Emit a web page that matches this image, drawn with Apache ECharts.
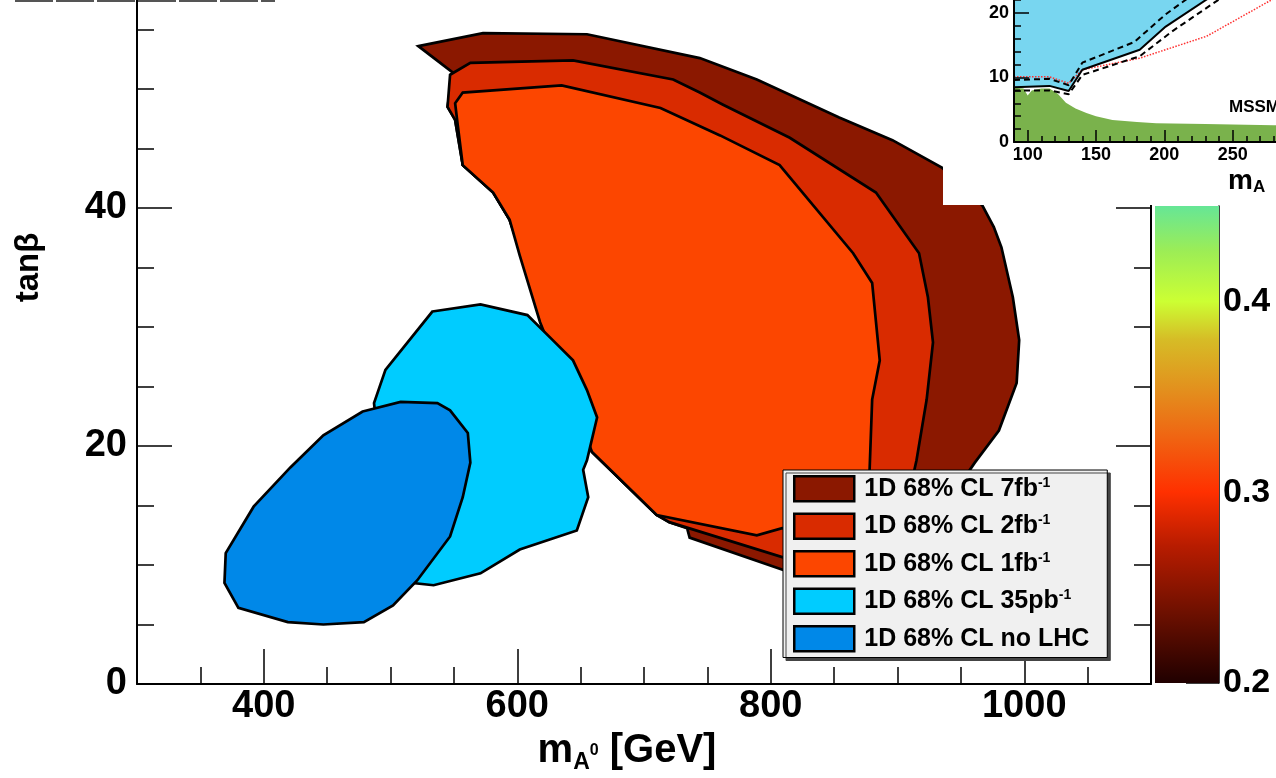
<!DOCTYPE html>
<html>
<head>
<meta charset="utf-8">
<script src="https://cdn.jsdelivr.net/npm/echarts@6/dist/echarts.min.js"></script>
<style>
html, body { margin: 0; padding: 0; background: #fff; }
#chart { width: 1276px; height: 778px; }
</style>
</head>
<body>
<div id="chart"></div>
<script>
const FONT = '"Liberation Sans", Arial, sans-serif'

// contours, [mA (GeV), tanb]
const cl7fb = [[522,53.6],[573,54.7],[655,54.6],[744,52.6],[789,50.8],[854,47.6],[896,45.7],[935,43.4],[967,40.2],[976,38.4],[982,36.7],[991,32.5],[996,28.9],[994,25.3],[980,21.3],[961,18.6],[941,15.5],[902,10.4],[846,8.7],[823,9.1],[736,12.3],[734,13.1],[720,13.6],[710,14.2],[659,19.5],[634,25.5],[618,30.6],[602,36.5],[594,39.0],[581,41.3],[557,43.6],[551,47.4],[545,48.5],[549,51.4]]
const cl2fb = [[547,51.2],[563,52.2],[644,52.4],[723,50.8],[744,49.7],[762,48.7],[815,45.9],[883,41.3],[917,36.2],[924,32.5],[928,28.7],[923,23.9],[915,18.8],[905,14.0],[870,10.5],[823,10.2],[720,13.6],[710,14.2],[659,19.5],[634,25.5],[618,30.6],[602,36.5],[594,39.0],[581,41.3],[557,43.6],[551,47.4],[545,48.5]]
const cl1fb = [[551,48.8],[557,49.7],[635,50.3],[713,48.4],[760,46.1],[807,43.6],[865,36.2],[880,33.7],[886,27.2],[880,23.9],[878,18.0],[872,14.6],[839,12.8],[809,13.1],[789,12.5],[710,14.2],[659,19.5],[646,23.0],[618,30.4],[602,36.0],[594,39.0],[581,41.3],[557,43.6],[553,47.0]]
const cl35pb = [[533,31.3],[571,31.9],[608,31.0],[628,28.9],[644,27.2],[655,24.7],[663,22.4],[655,18.8],[652,18.0],[656,15.7],[647,12.9],[602,11.3],[571,9.3],[534,8.3],[516,8.5],[504,12.1],[492,18.8],[487,23.6],[496,26.4]]
const clNoLHC = [[478,22.9],[508,23.7],[537,23.6],[547,23.0],[561,21.1],[563,18.6],[557,15.7],[547,12.4],[521,8.7],[502,6.6],[479,5.2],[447,5.0],[419,5.2],[380,6.4],[369,8.5],[370,11.0],[392,14.9],[421,18.2],[447,20.9]]

const names = ['1D 68% CL 7fb', '1D 68% CL 2fb', '1D 68% CL 1fb', '1D 68% CL 35pb', '1D 68% CL no LHC']
const colors = ['#8b1800', '#d92b00', '#fc4600', '#00ccff', '#0088e8']

const xMajor = [400, 600, 800, 1000]
const xMinor = [350, 450, 500, 550, 650, 700, 750, 850, 900, 950, 1050]

// colour scale
const cbTicks = [0.2, 0.3, 0.4]
const cbValues = [0.2, 0.237, 0.272, 0.3, 0.332, 0.355, 0.38, 0.4, 0.426, 0.45]
const cbColors = ['#200000', '#6e1000', '#b81c00', '#ff3000', '#ee6a14', '#e2921e', '#d6bc26', '#ccff33', '#9ded55', '#66e696']

// inset (exclusion plot)
const inXMajor = [100, 150, 200, 250]
const inXMinor = [110, 120, 130, 140, 160, 170, 180, 190, 210, 220, 230, 240, 260, 270, 280, 290]
const inYMajor = [0, 10, 20, 30]
const inYMinor = [2, 4, 6, 8, 12, 14, 16, 18, 22, 24, 26, 28]
const greenEdge = [[90,8.4],[97,8.3],[100,7.2],[103,8.0],[110,8.3],[116,8.3],[122,7.5],[128,6.1],[135,5.2],[143,4.5],[150,4.0],[162,3.4],[180,3.1],[194,2.9],[230,2.8],[280,2.6],[300,2.5]]
const observed = [[90,8.5],[116,8.7],[130,7.9],[140,11.2],[182,14.3],[201,17.9],[231,22.1],[245,24.0]]
const upperDashed = [[90,9.6],[116,9.8],[130,8.8],[140,12.3],[178,15.5],[201,19.8],[216,22.1],[225,23.5]]
const lowerDashed = [[90,8.0],[116,8.0],[130,7.4],[140,10.4],[182,13.3],[206,17.2],[240,22.1],[250,23.5]]
const redDotted = [[90,10.1],[116,10.1],[130,9.1],[140,11.2],[182,13.0],[231,16.4],[279,22.1],[290,23.0]]

const chart = echarts.init(document.getElementById('chart'))

function contour(i, pts) {
  return {
    type: 'custom',
    name: names[i],
    xAxisIndex: 0,
    yAxisIndex: 0,
    itemStyle: { color: colors[i] },
    data: pts,
    encode: { x: 0, y: 1 },
    renderItem: (params, api) => {
      if (params.dataIndex !== 0) return
      return {
        type: 'polygon',
        shape: { points: pts.map(p => api.coord(p)) },
        style: { fill: colors[i], stroke: '#000', lineWidth: 2.7 }
      }
    }
  }
}

const black = { color: '#000', width: 1.5 }
const bold = (size) => ({ fontSize: size, fontWeight: 'bold', fontFamily: FONT, color: '#000' })

function insetLine(pts, style, z) {
  return {
    type: 'line', xAxisIndex: 3, yAxisIndex: 3, data: pts,
    showSymbol: false, symbol: 'none', lineStyle: style, z: z, silent: true
  }
}

const options = {
  animation: false,
  grid: [
    { left: 137, top: -149, width: 1014, height: 833, outerBoundsMode: 'none', containLabel: false },
    { left: 1155, top: 206, width: 64, height: 477, outerBoundsMode: 'none', containLabel: false },
    { left: 1014, top: -116, width: 287, height: 258, outerBoundsMode: 'none', containLabel: false }
  ],
  xAxis: [
    {
      gridIndex: 0, type: 'value', min: 300, max: 1100, position: 'bottom',
      axisLine: { onZero: false, lineStyle: { color: '#000', width: 2 } },
      axisTick: { customValues: xMajor, inside: true, length: 35, lineStyle: black },
      axisLabel: { customValues: xMajor, margin: 4, formatter: v => String(v), ...bold(38) },
      splitLine: { show: false },
      name: '{m|m}{a|A}{z|0}{m| [GeV]}', nameLocation: 'middle', nameGap: 44,
      nameTextStyle: {
        padding: [0, 34, 0, 0],
        rich: {
          m: { ...bold(40), lineHeight: 46 },
          a: { ...bold(23), lineHeight: 23, verticalAlign: 'bottom' },
          z: { ...bold(16), lineHeight: 16, verticalAlign: 'middle' }
        }
      }
    },
    {
      gridIndex: 0, type: 'value', min: 300, max: 1100, position: 'bottom',
      axisLine: { show: false },
      axisTick: { customValues: xMinor, inside: true, length: 17, lineStyle: black },
      axisLabel: { show: false },
      splitLine: { show: false }
    },
    { gridIndex: 1, type: 'value', min: 0, max: 1, show: false },
    {
      gridIndex: 2, type: 'value', min: 90, max: 300, position: 'bottom', z: 60,
      axisLine: { onZero: false, lineStyle: { color: '#000', width: 2 } },
      axisTick: { customValues: inXMajor, inside: true, length: 12, lineStyle: black },
      axisLabel: { customValues: inXMajor, margin: 4, ...bold(18) },
      splitLine: { show: false }
    },
    {
      gridIndex: 2, type: 'value', min: 90, max: 300, position: 'bottom', z: 60,
      axisLine: { show: false },
      axisTick: { customValues: inXMinor, inside: true, length: 6, lineStyle: black },
      axisLabel: { show: false },
      splitLine: { show: false }
    }
  ],
  yAxis: [
    {
      gridIndex: 0, type: 'value', min: 0, max: 70, interval: 20, position: 'left',
      axisLine: { show: true, onZero: false, lineStyle: { color: '#000', width: 2 } },
      axisTick: { inside: true, length: 35, lineStyle: black },
      minorTick: { show: true, splitNumber: 4, length: 17, lineStyle: black },
      axisLabel: { margin: 10, ...bold(38) },
      splitLine: { show: false },
      name: 'tanβ', nameLocation: 'middle', nameGap: 92,
      nameTextStyle: bold(33)
    },
    {
      gridIndex: 0, type: 'value', min: 0, max: 70, interval: 20, position: 'right',
      axisLine: { show: true, onZero: false, lineStyle: { color: '#000', width: 2 } },
      axisTick: { inside: true, length: 35, lineStyle: black },
      minorTick: { show: true, splitNumber: 4, length: 17, lineStyle: black },
      axisLabel: { show: false },
      splitLine: { show: false }
    },
    {
      gridIndex: 1, type: 'value', min: 0.2, max: 0.45, position: 'right',
      axisLine: { show: true, onZero: false, lineStyle: { color: '#000', width: 1.5 } },
      axisTick: { customValues: cbTicks, inside: true, length: 33, lineStyle: black },
      axisLabel: { customValues: cbTicks, margin: 4, formatter: v => v.toFixed(1), ...bold(34) },
      splitLine: { show: false }
    },
    {
      gridIndex: 2, type: 'value', min: 0, max: 40, position: 'left', z: 60,
      axisLine: { show: true, onZero: false, lineStyle: { color: '#000', width: 2 } },
      axisTick: { customValues: inYMajor, inside: true, length: 15, lineStyle: black },
      axisLabel: { customValues: [0, 10, 20], margin: 5, ...bold(18) },
      splitLine: { show: false }
    },
    {
      gridIndex: 2, type: 'value', min: 0, max: 40, position: 'left', z: 60,
      axisLine: { show: false },
      axisTick: { customValues: inYMinor, inside: true, length: 7, lineStyle: black },
      axisLabel: { show: false },
      splitLine: { show: false }
    }
  ],
  legend: {
    data: names,
    orient: 'vertical',
    left: 783, top: 470,
    padding: [5, 18, 5, 10],
    itemGap: 10, itemWidth: 60, itemHeight: 25,
    icon: 'rect',
    itemStyle: { borderColor: '#000', borderWidth: 2.5 },
    backgroundColor: '#f0f0f0', borderColor: '#000', borderWidth: 1,
    shadowColor: '#444', shadowOffsetX: 3, shadowOffsetY: 3, shadowBlur: 0,
    selectedMode: false,
    formatter: n => n.endsWith('LHC') ? `{t|${n}}` : `{t|${n}}{s|-1}`,
    textStyle: {
      rich: {
        t: { ...bold(25), lineHeight: 26, padding: [0, 0, 0, 5] },
        s: { ...bold(14), lineHeight: 14, verticalAlign: 'top' }
      }
    }
  },
  graphic: [
    { type: 'line', z: 10, shape: { x1: 15, y1: 1, x2: 275, y2: 1 }, style: { stroke: '#555', lineWidth: 2, lineDash: [38, 3] } },
    { type: 'rect', z: 50, shape: { x: 943, y: 0, width: 333, height: 205 }, style: { fill: '#fff' } },
    { type: 'text', z: 61, x: 1229, y: 99, style: { text: 'MSSM', fill: '#000', font: 'bold 17px ' + FONT } },
    {
      type: 'text', z: 61, x: 1228, y: 166,
      style: {
        text: '{m|m}{a|A}',
        rich: {
          m: { fontSize: 28, fontWeight: 'bold', fontFamily: FONT, fill: '#000', lineHeight: 30 },
          a: { fontSize: 17, fontWeight: 'bold', fontFamily: FONT, fill: '#000', lineHeight: 17, verticalAlign: 'bottom' }
        }
      }
    }
  ],
  series: [
    contour(0, cl7fb),
    contour(1, cl2fb),
    contour(2, cl1fb),
    contour(3, cl35pb),
    contour(4, clNoLHC),
    {
      type: 'custom', name: 'scale', xAxisIndex: 2, yAxisIndex: 2,
      data: [[0, cbValues[0]]],
      renderItem: (params, api) => {
        const lo = cbValues[0], hi = cbValues[cbValues.length - 1]
        const p0 = api.coord([0, lo])
        const p1 = api.coord([1, hi])
        const stops = cbValues.map((v, i) => ({ offset: (v - lo) / (hi - lo), color: cbColors[i] }))
        return {
          type: 'rect',
          shape: { x: p0[0], y: p1[1], width: p1[0] - p0[0], height: p0[1] - p1[1] },
          style: { fill: new echarts.graphic.LinearGradient(0, 1, 0, 0, stops) }
        }
      }
    },
    {
      ...insetLine(greenEdge, { width: 0 }, 55),
      areaStyle: { color: '#7ab24c', opacity: 1, origin: 'start' }
    },
    {
      ...insetLine(observed, { width: 0 }, 55),
      areaStyle: { color: '#78d6f0', opacity: 1, origin: 'end' }
    },
    insetLine(redDotted, { color: '#ff3030', width: 1.5, type: 'dotted' }, 57),
    insetLine(upperDashed, { color: '#000', width: 2, type: [6, 4] }, 57),
    insetLine(lowerDashed, { color: '#000', width: 2, type: [6, 4] }, 57),
    insetLine(observed, { color: '#000', width: 2 }, 58)
  ]
}

chart.setOption(options)
</script>
</body>
</html>
